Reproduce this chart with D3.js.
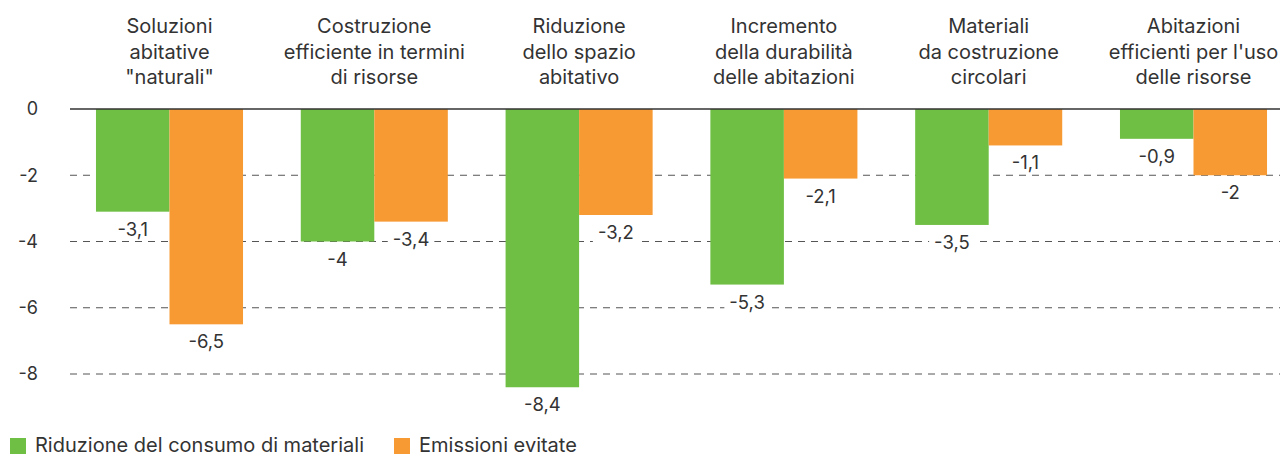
<!DOCTYPE html>
<html>
<head>
<meta charset="utf-8">
<script src="https://cdn.jsdelivr.net/npm/d3@7"></script>
<style>
  html, body { margin: 0; padding: 0; background: #fff; }
  svg { display: block; font-family: Inter, "Noto Sans", sans-serif; }
</style>
</head>
<body>
<div id="chart"></div>
<script>
// --------------- Data ---------------
const CATEGORIES = [
  ["Soluzioni", "abitative", "\"naturali\""],
  ["Costruzione", "efficiente in termini", "di risorse"],
  ["Riduzione", "dello spazio", "abitativo"],
  ["Incremento", "della durabilità", "delle abitazioni"],
  ["Materiali", "da costruzione", "circolari"],
  ["Abitazioni", "efficienti per l'uso", "delle risorse"]
];
const MATERIALI = [-3.1, -4, -8.4, -5.3, -3.5, -0.9];
const EMISSIONI = [-6.5, -3.4, -3.2, -2.1, -1.1, -2];
const SERIES_NAMES = ["Riduzione del consumo di materiali", "Emissioni evitate"];
const Y_TICKS = [0, -2, -4, -6, -8];

// --------------- Constants ---------------
const WIDTH = 1280;
const HEIGHT = 457;
const COLORS = ["#6fbf44", "#f79a33"];
const TEXT_COLOR = "#333333";

const svg = d3.select("#chart")
  .append("svg")
  .attr("width", WIDTH)
  .attr("height", HEIGHT);

const x = d3.scaleBand()
  .domain(d3.range(CATEGORIES.length))
  .range([67.1, 1295.9])
  .paddingInner(0.282)
  .paddingOuter(0.141);

const xSeries = d3.scaleBand()
  .domain([0, 1])
  .range([0, x.bandwidth()]);

const y = d3.scaleLinear()
  .domain([0, -8])
  .range([109, 374]);

// gridlines
Y_TICKS.filter(t => t !== 0).forEach(t => {
  svg.append("line")
    .attr("x1", 70).attr("x2", WIDTH)
    .attr("y1", y(t)).attr("y2", y(t))
    .attr("stroke", "#555")
    .attr("stroke-width", 1)
    .attr("stroke-dasharray", "7,6");
});

// y tick labels
Y_TICKS.forEach(t => {
  svg.append("text")
    .text(t)
    .attr("x", 38)
    .attr("y", y(t))
    .attr("dy", "0.35em")
    .attr("text-anchor", "end")
    .attr("font-size", "18px")
    .attr("fill", TEXT_COLOR);
});

// bars
const fmt = v => String(v).replace(".", ",");
[MATERIALI, EMISSIONI].forEach((values, s) => {
  values.forEach((v, i) => {
    svg.append("rect")
      .attr("x", x(i) + xSeries(s))
      .attr("y", y(0))
      .attr("width", xSeries.bandwidth())
      .attr("height", y(v) - y(0))
      .attr("fill", COLORS[s]);
  });
});

// value labels, white box hides the gridline behind them
[MATERIALI, EMISSIONI].forEach((values, s) => {
  values.forEach((v, i) => {
    const g = svg.append("g");
    const bg = g.append("rect").attr("fill", "#fff");
    const t = g.append("text")
      .text(fmt(v))
      .attr("x", x(i) + xSeries(s) + xSeries.bandwidth() / 2)
      .attr("y", y(v) + 24)
      .attr("text-anchor", "middle")
      .attr("font-size", "18.5px")
      .attr("fill", TEXT_COLOR);
    const b = t.node().getBBox();
    bg.attr("x", b.x - 5).attr("y", b.y)
      .attr("width", b.width + 10).attr("height", b.height);
  });
});

// zero line
svg.append("line")
  .attr("x1", 70).attr("x2", WIDTH)
  .attr("y1", y(0)).attr("y2", y(0))
  .attr("stroke", "#333")
  .attr("stroke-width", 1.5);

// category labels
CATEGORIES.forEach((lines, i) => {
  const t = svg.append("text")
    .attr("text-anchor", "middle")
    .attr("font-size", "20px")
    .attr("fill", TEXT_COLOR);
  lines.forEach((ln, j) => {
    t.append("tspan")
      .attr("x", x(i) + x.bandwidth() / 2)
      .attr("y", 33 + j * 25.5)
      .text(ln);
  });
});

// legend
const legendX = [10, 394];
SERIES_NAMES.forEach((name, s) => {
  svg.append("rect")
    .attr("x", legendX[s])
    .attr("y", 438)
    .attr("width", 16)
    .attr("height", 16)
    .attr("fill", COLORS[s]);
  svg.append("text")
    .text(name)
    .attr("x", legendX[s] + 25)
    .attr("y", 452)
    .attr("font-size", "20px")
    .attr("fill", TEXT_COLOR);
});
</script>
</body>
</html>
